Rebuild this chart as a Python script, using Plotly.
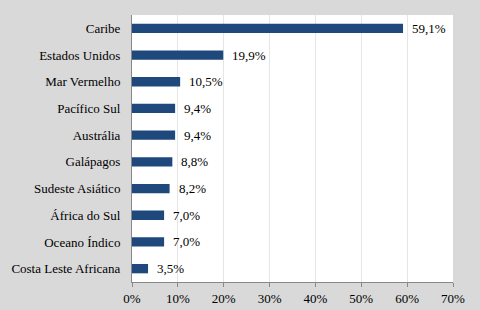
import plotly.graph_objects as go

categories = ["Caribe", "Estados Unidos", "Mar Vermelho", "Pacífico Sul", "Austrália",
              "Galápagos", "Sudeste Asiático", "África do Sul", "Oceano Índico",
              "Costa Leste Africana"]
values = [59.1, 19.9, 10.5, 9.4, 9.4, 8.8, 8.2, 7.0, 7.0, 3.5]
tick_vals = [0, 10, 20, 30, 40, 50, 60, 70]
tick_text = [f"{v}%" for v in tick_vals]

font_family = "Liberation Serif, Times New Roman, serif"

fig = go.Figure()
fig.add_trace(go.Bar(
    x=values, y=categories, orientation="h",
    marker=dict(color="#1f497d", line=dict(width=0)),
    width=0.35,
    hoverinfo="skip",
))

for c, v in zip(categories, values):
    fig.add_annotation(
        x=v, y=c, text=f"{v:.1f}".replace(".", ",") + "%",
        xanchor="left", yanchor="middle", xshift=7, showarrow=False,
        font=dict(family=font_family, size=13, color="#000000"),
    )

fig.update_layout(
    width=480, height=310,
    margin=dict(l=132, r=27, t=15, b=28, autoexpand=False),
    paper_bgcolor="#d9d9d9",
    plot_bgcolor="#ffffff",
    showlegend=False,
    font=dict(family=font_family, size=13, color="#000000"),
    bargap=0.65,
)
fig.update_xaxes(
    range=[0, 70], tickvals=tick_vals, ticktext=tick_text,
    showgrid=True, gridcolor="#e6e6e6", gridwidth=1,
    showline=True, linecolor="#888888", linewidth=1,
    ticks="outside", ticklen=4, tickcolor="#888888",
    zeroline=False, fixedrange=True, automargin=False,
)
fig.update_yaxes(
    categoryorder="array", categoryarray=categories[::-1],
    showline=True, linecolor="#888888", linewidth=1,
    showgrid=False, zeroline=False, ticks="", ticklabelstandoff=8,
    fixedrange=True, automargin=False,
)

fig.write_html(
    "out.html",
    config={"displayModeBar": False},
    post_script="document.body.style.margin='0';document.body.style.padding='0';",
)
